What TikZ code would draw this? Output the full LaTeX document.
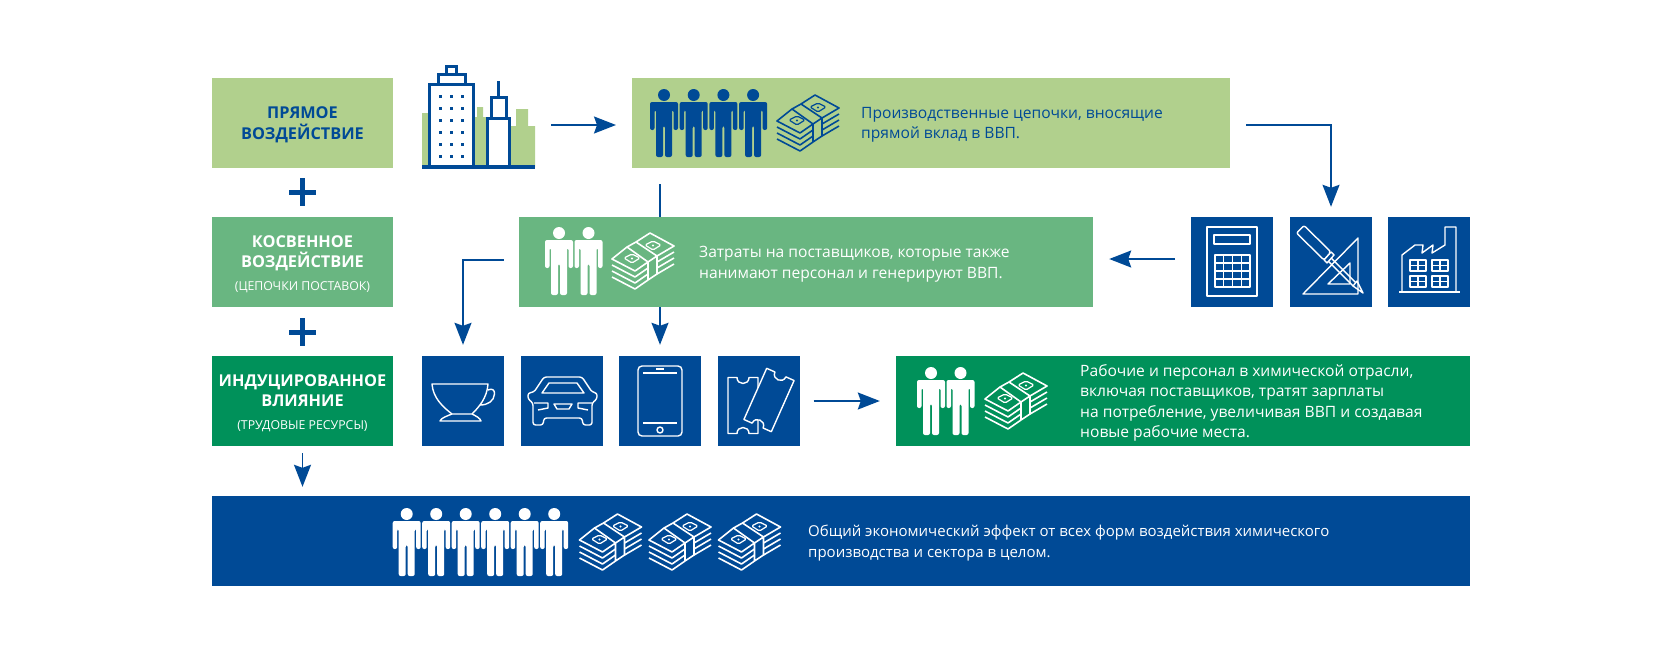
\documentclass[tikz,border=0pt]{standalone}
\usepackage{fontspec}
\setmainfont{Open Sans}
\usetikzlibrary{arrows.meta}

\definecolor{chemblue}{HTML}{004A96}
\definecolor{palegreen}{HTML}{B1D08D}
\definecolor{midgreen}{HTML}{69B681}
\definecolor{deepgreen}{HTML}{00915A}

\newcommand{\notefont}{\fontsize{12.3}{14}\selectfont\mdseries}

\tikzset{
    titlebox/.style={minimum width=181pt, minimum height=90pt, inner sep=0pt},
    titletext/.style={inner sep=0pt, align=center, font=\fontsize{16.3}{20.5}\selectfont\bfseries},
    iconbox/.style={minimum width=82pt, minimum height=90pt, inner sep=0pt, fill=chemblue},
    bodytext/.style={anchor=west, align=left, inner sep=0pt, font=\fontsize{15.6}{20.5}\selectfont},
    iconline/.style={draw=white, line width=1.4pt, line join=round},
    conn/.style={-{Stealth[length=22pt, width=17pt, inset=3pt]}, line width=1.7pt, chemblue},
    pics/person/.style={code={
        \fill[#1] (0,6) circle[radius=6];
        \fill[#1, rounded corners=2pt] (-14,13) -- (14,13) -- (14,41) -- (9.5,41) -- (9.5,21) -- (8,21) -- (8,68)
            -- (1,68) -- (1,37) -- (-1,37) -- (-1,68) -- (-8,68) -- (-8,21) -- (-9.5,21) -- (-9.5,41) -- (-14,41) -- cycle;
    }},
    pics/cash/.style={code={
        \draw[#1, line width=1.6pt, line join=round]
            (24,9) -- (38,0) -- (62,13) -- (45,23) -- (24,9) -- (15,14) -- (36,29) -- (45,23)
            (15,14) -- (0,26) -- (23,38) -- (36,29) -- (36,47) -- (45,41) -- (45,23);
        \foreach \k in {1,2,3} {
            \draw[#1, line width=1.6pt, line join=round] (0,26+6*\k) -- (23,38+6*\k) -- (36,29+6*\k);
            \draw[#1, line width=1.6pt, line join=round] (62,13+6*\k) -- (45,23+6*\k);
        }
        % banknote ovals
        \draw[#1, line width=1.2pt, rounded corners=1.5pt] (12,25) -- (20,21) -- (28,25) -- (20,30) -- cycle;
        \draw[#1, line width=1.2pt, rounded corners=1.5pt] (33,12) -- (41,8) -- (49,12) -- (41,17) -- cycle;
        \fill[#1] (20,25.5) circle[radius=1.2];
        \fill[#1] (41,12.5) circle[radius=1.2];
    }},
    pics/ticket/.style={code={
        \draw[iconline, fill=chemblue] (-15,-28) -- (-6,-28) .. controls (-6,-20) and (6,-20) .. (6,-28) -- (15,-28)
            -- (15,28) -- (6,28) .. controls (6,20) and (-6,20) .. (-6,28) -- (-15,28) -- cycle;
    }}
}

\begin{document}
\begin{tikzpicture}[x=1pt, y=-1pt]
    \useasboundingbox (0,0) rectangle (1680,664);

    % Left column
    \node[titlebox, fill=palegreen] (direct) at (302.5,123) {};
    \node[titlebox, fill=midgreen] (indirect) at (302.5,262) {};
    \node[titlebox, fill=deepgreen] (induced) at (302.5,401) {};
    \node[titlebox, fill=chemblue] (total) at (302.5,540.5) {};
    \node[titletext, text=chemblue] (directtext) at (302.5,125) {ПРЯМОЕ\\ВОЗДЕЙСТВИЕ};
    \node[titletext, text=white] (indirecttext) at (302.5,264) {КОСВЕННОЕ\\ВОЗДЕЙСТВИЕ\\[2pt]{\notefont (ЦЕПОЧКИ ПОСТАВОК)}};
    \node[titletext, text=white] (inducedtext) at (302.5,403) {ИНДУЦИРОВАННОЕ\\ВЛИЯНИЕ\\[2pt]{\notefont (ТРУДОВЫЕ РЕСУРСЫ)}};
    \node[titletext, text=white] (totaltitle) at (302.5,542.5) {СУММАРНОЕ\\ВОЗДЕЙСТВИЕ};

    % Plus signs
    \foreach \y in {192,332} {
        \draw[chemblue, line width=5pt] (289,\y) -- (316,\y);
        \draw[chemblue, line width=5pt] (302.5,\y-14) -- (302.5,\y+14);
    }

    % Wide bars
    \node[minimum width=598pt, minimum height=90pt, inner sep=0pt, fill=palegreen] (topbar) at (931,123) {};
    \node[minimum width=574pt, minimum height=90pt, inner sep=0pt, fill=midgreen] (midbar) at (806,262) {};
    \node[minimum width=574pt, minimum height=90pt, inner sep=0pt, fill=deepgreen] (lowbar) at (1183,401) {};
    \node[minimum width=1258pt, minimum height=90pt, inner sep=0pt, fill=chemblue] (totalbar) at (841,540.5) {};

    % Bar texts
    \node[bodytext, text=chemblue] (toptext) at (861,125) {Производственные цепочки, вносящие\\прямой вклад в ВВП.};
    \node[bodytext, text=white] (midtext) at (699,264) {Затраты на поставщиков, которые также\\нанимают персонал и генерируют ВВП.};
    \node[bodytext, text=white] (lowtext) at (1080,403) {Рабочие и персонал в химической отрасли,\\включая поставщиков, тратят зарплаты\\на потребление, увеличивая ВВП и создавая\\новые рабочие места.};
    \node[bodytext, text=white, font=\fontsize{15}{20.5}\selectfont] (totaltext) at (808,543) {Общий экономический эффект от всех форм воздействия химического\\производства и сектора в целом.};

    % People and money
    \foreach \x in {664,693.7,723.4,753.1}
        \pic at (\x,89) {person=chemblue};
    \pic at (777,95) {cash=chemblue};
    \foreach \x in {559,588.5}
        \pic at (\x,227) {person=white};
    \pic at (612,233) {cash=white};
    \foreach \x in {931,960.5}
        \pic at (\x,367) {person=white};
    \pic at (985,373) {cash=white};
    \foreach \x in {406.7,436.2,465.7,495.2,524.7,554.2}
        \pic at (\x,508) {person=white};
    \foreach \x in {579.5,649,718.5}
        \pic at (\x,514) {cash=white};

    % Buildings
    \fill[palegreen] (422,167) -- (422,113) -- (430,113) -- (430,167) -- cycle;
    \fill[palegreen] (473,167) -- (473,117) -- (477,117) -- (477,107) -- (483,107) -- (483,117) -- (488,117) -- (488,167) -- cycle;
    \fill[palegreen] (509,167) -- (509,126) -- (516,126) -- (516,109) -- (528,109) -- (528,126) -- (535,126) -- (535,167) -- cycle;
    \draw[chemblue, line width=3pt, fill=white] (429,167) rectangle (473,84);
    \draw[chemblue, line width=3pt] (438,84) rectangle (465,74);
    \draw[chemblue, line width=3pt] (446,74) rectangle (456,66);
    \foreach \x in {440,451,462}
        \foreach \y in {96,108,...,156}
            \fill[chemblue] (\x-1.5,\y-1.5) rectangle (\x+1.5,\y+1.5);
    \draw[chemblue, line width=3pt, fill=white] (487,167) rectangle (509,118);
    \draw[chemblue, line width=3pt, fill=white] (491,118) rectangle (506,97);
    \draw[chemblue, line width=3pt] (498,97) -- (498,81);
    \draw[chemblue, line width=3.5pt] (422,167) -- (535,167);

    % Supplier icons
    \node[iconbox] (calcbox) at (1232,262) {};
    \node[iconbox] (toolbox) at (1331,262) {};
    \node[iconbox] (plantbox) at (1429,262) {};
    \draw[iconline] (1207,227) rectangle (1257,296);
    \draw[iconline] (1214,235) rectangle (1250,244);
    \draw[iconline] (1215,255) rectangle (1250,287);
    \foreach \x in {1223.75,1232.5,1241.25}
        \draw[iconline] (\x,255) -- (\x,287);
    \foreach \y in {263,271,279}
        \draw[iconline] (1215,\y) -- (1250,\y);
    \draw[iconline] (1303,294) -- (1358,238) -- (1358,294) -- cycle;
    \draw[iconline] (1328,284) -- (1350,263) -- (1350,284) -- cycle;
    \draw[iconline, fill=chemblue, rounded corners=2pt] (1296.5,233) -- (1304,225.5) -- (1331,252) -- (1324,260) -- cycle;
    \draw[iconline, fill=chemblue] (1331,252) -- (1334,255) -- (1327,263) -- (1324,260) -- cycle;
    \draw[iconline] (1331,258) -- (1356,283) (1328,261) -- (1353,286);
    \draw[iconline] (1353,286) -- (1357,281) -- (1363,293) -- cycle;
    \draw[iconline] (1399,292) -- (1460,292);
    \draw[iconline] (1402,292) -- (1402,255) -- (1415,245) -- (1423,245) -- (1422,253) -- (1433,245) -- (1432,253) -- (1445,245) -- (1445,227) -- (1456,227) -- (1456,292);
    \foreach \x in {1410,1432}
        \foreach \y in {260,276} {
            \draw[iconline] (\x,\y) rectangle (\x+16,\y+11);
            \draw[iconline] (\x+8,\y) -- (\x+8,\y+11);
            \draw[iconline] (\x,\y+5.5) -- (\x+16,\y+5.5);
        }

    % Consumer icons
    \node[iconbox] (cupbox) at (463,401) {};
    \node[iconbox] (carbox) at (561.5,401) {};
    \node[iconbox] (phonebox) at (660,401) {};
    \node[iconbox] (ticketbox) at (758.5,401) {};
    \draw[iconline] (432,384) -- (488,384) .. controls (487,398) and (479,407) .. (472,414) -- (452,414) .. controls (443,407) and (433,398) .. (432,384) -- cycle;
    \draw[iconline] (452,414) .. controls (447,416) and (441,418) .. (440,421) -- (481,421) .. controls (480,418) and (476,416) .. (472,414);
    \draw[iconline] (488,390) .. controls (492,388) and (495,390) .. (494.5,394) .. controls (494,401) and (488,405) .. (480,405);
    \draw[iconline, rounded corners=2.5pt] (544,377) -- (582,377) -- (592,392) -- (597,393) -- (597,399) -- (592,403) -- (592,425) -- (583,425) -- (582,418) -- (544,418) -- (543,425) -- (533,425) -- (533,403) -- (528,399) -- (528,393) -- (534,392) -- cycle;
    \draw[iconline] (542,393) -- (584,393) -- (577,383) -- (549,383) -- cycle;
    \draw[iconline] (554,404) -- (572,404) -- (569,409) -- (557,409) -- cycle;
    \draw[iconline] (534,403) -- (548,403) -- (548,408) -- (538,410);
    \draw[iconline] (592,403) -- (578,403) -- (578,408) -- (588,410);
    \draw[iconline, rounded corners=4pt] (638,366) rectangle (682,436);
    \draw[iconline] (656,369) -- (664,369);
    \draw[iconline] (643,373) -- (677,373);
    \draw[iconline] (643,423) -- (677,423);
    \draw[iconline] (660,430) circle[radius=3];
    \pic at (743,405.5) {ticket};
    \pic[rotate=-24] at (769,400) {ticket};

    % Flow arrows
    \coordinate (skyline) at (551,125);
    \coordinate (topin) at (616,125);
    \draw[conn] (skyline) -- (topin);
    \draw[conn, shorten <=16pt, shorten >=10pt] ([yshift=-2pt]topbar.east) -| (toolbox.north);
    \draw[conn, shorten >=16pt] ([xshift=82pt, yshift=3pt]midbar.east) -- ([yshift=3pt]midbar.east);
    \draw[line width=1.7pt, chemblue, shorten <=16pt] (phonebox.north |- topbar.south) -- (phonebox.north |- midbar.north);
    \draw[conn, shorten >=11pt] (phonebox.north |- midbar.south) -- (phonebox.north);
    \draw[conn, shorten <=15pt, shorten >=11pt] ([yshift=2pt]midbar.west) -| (cupbox.north);
    \draw[conn, shorten <=14pt, shorten >=16pt] (ticketbox.east) -- (lowbar.west);
    \draw[conn, shorten <=7pt, shorten >=8.5pt] (induced.south) -- (total.north);
\end{tikzpicture}
\end{document}
